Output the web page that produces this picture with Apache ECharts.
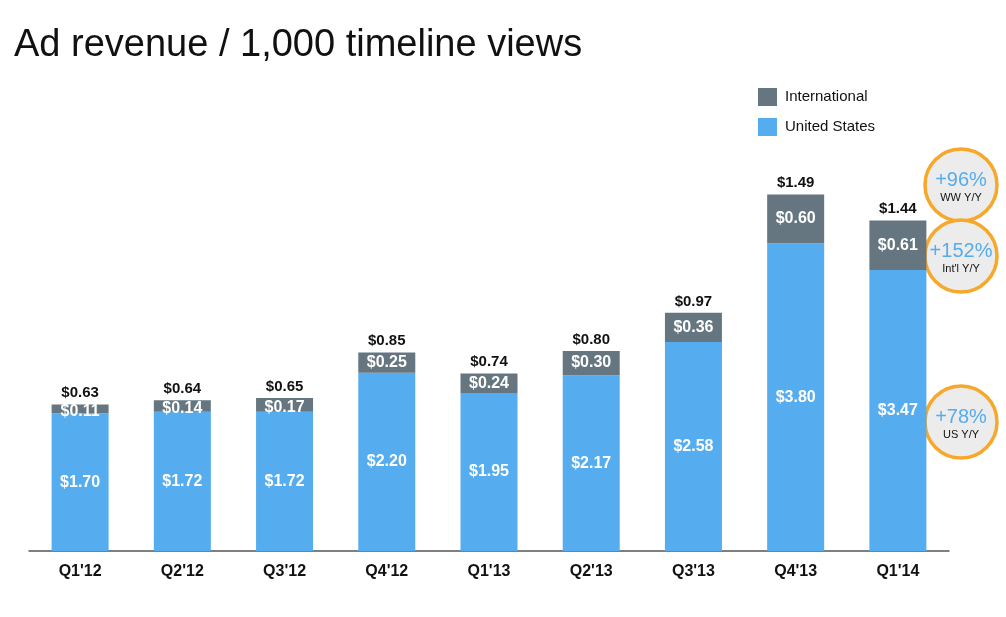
<!DOCTYPE html>
<html>
<head>
<meta charset="utf-8">
<script src="https://cdn.jsdelivr.net/npm/echarts@6/dist/echarts.min.js"></script>
<style>
  html, body { margin: 0; padding: 0; background: #fff; }
  #chart { width: 1006px; height: 617px; }
</style>
</head>
<body>
<div id="chart"></div>
<script>
// quarters on the x axis
const quarters = ["Q1'12", "Q2'12", "Q3'12", "Q4'12", "Q1'13", "Q2'13", "Q3'13", "Q4'13", "Q1'14"]
// ad revenue per 1,000 timeline views, in dollars
const usValues = [1.70, 1.72, 1.72, 2.20, 1.95, 2.17, 2.58, 3.80, 3.47]
const intlValues = [0.11, 0.14, 0.17, 0.25, 0.24, 0.30, 0.36, 0.60, 0.61]
const wwValues = [0.63, 0.64, 0.65, 0.85, 0.74, 0.80, 0.97, 1.49, 1.44]
// growth callouts on the right
const callouts = [
  { value: '+96%', note: 'WW Y/Y' },
  { value: '+152%', note: "Int'l Y/Y" },
  { value: '+78%', note: 'US Y/Y' },
]

const font = '"Liberation Sans", Arial, Helvetica, sans-serif'
const money = v => '$' + v.toFixed(2)

// orange ringed circles with the Y/Y growth
const calloutPos = [[961, 185], [961, 256], [961, 422]]
const calloutGraphics = callouts.map((c, i) => ({
  type: 'group',
  x: calloutPos[i][0],
  y: calloutPos[i][1],
  children: [
    { type: 'circle', shape: { cx: 0, cy: 0, r: 36 },
      style: { fill: '#ececec', stroke: '#f7a82a', lineWidth: 3.5 } },
    { type: 'text', x: 0, y: -5,
      style: { text: c.value, fill: '#55acee', font: '20px ' + font, align: 'center', verticalAlign: 'middle' } },
    { type: 'text', x: 0, y: 13,
      style: { text: c.note, fill: '#111', font: '11px ' + font, align: 'center', verticalAlign: 'middle' } },
  ],
}))

const chart = echarts.init(document.getElementById('chart'))
chart.setOption({
  animation: false,
  textStyle: { fontFamily: font },
  title: {
    text: 'Ad revenue / 1,000 timeline views',
    left: 9,
    top: 22,
    padding: 5,
    textStyle: { fontSize: 38, fontWeight: 'normal', color: '#111', fontFamily: font },
  },
  legend: {
    data: ['International', 'United States'],
    orient: 'vertical',
    left: 758,
    top: 88,
    padding: 0,
    itemWidth: 19,
    itemHeight: 18,
    itemGap: 12,
    icon: 'rect',
    itemStyle: { borderWidth: 0 },
    textStyle: { fontSize: 15, color: '#111', fontFamily: font, padding: [0, 0, 0, 3] },
  },
  grid: { left: 29, right: 57, top: 146, bottom: 66 },
  xAxis: {
    type: 'category',
    data: quarters,
    axisLine: { lineStyle: { color: '#555', width: 1.5 } },
    axisTick: { show: false },
    axisLabel: { color: '#111', fontSize: 16, fontWeight: 'bold', margin: 13, fontFamily: font },
  },
  yAxis: {
    type: 'value',
    min: 0,
    max: 5,
    show: false,
    splitLine: { show: false },
  },
  series: [
    {
      name: 'United States',
      type: 'bar',
      stack: 'rev',
      barWidth: 57,
      data: usValues,
      itemStyle: { color: '#55acee' },
      label: { show: true, position: 'inside', color: '#fff', fontSize: 16, fontWeight: 'bold', formatter: p => money(p.value) },
    },
    {
      name: 'International',
      type: 'bar',
      stack: 'rev',
      barWidth: 57,
      data: intlValues,
      itemStyle: { color: '#657681' },
      label: { show: true, position: 'inside', color: '#fff', fontSize: 16, fontWeight: 'bold', formatter: p => money(p.value) },
      // thin segments: the label sits a little low, as in the original slide
      labelLayout: p => (p.rect.height < 16 ? { dy: 3 } : {}),
    },
    {
      // zero height bar on top of the stack, carries the worldwide total
      name: 'Worldwide',
      type: 'bar',
      stack: 'rev',
      barWidth: 57,
      data: wwValues.map(() => 0),
      itemStyle: { color: 'transparent' },
      label: {
        show: true, position: 'top', distance: 4, color: '#111', fontSize: 15, fontWeight: 'bold',
        formatter: p => money(wwValues[p.dataIndex]),
      },
    },
  ],
  graphic: calloutGraphics,
})
</script>
</body>
</html>
